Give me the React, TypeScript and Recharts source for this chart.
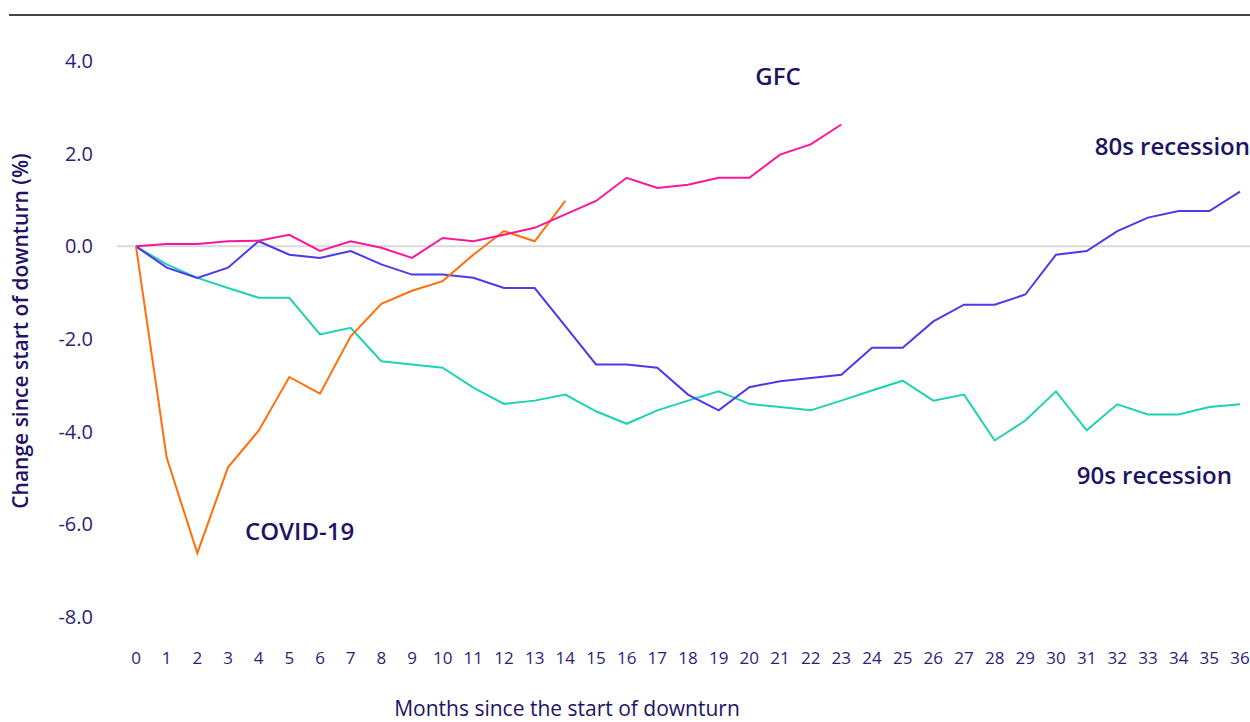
import React from "react";
import { LineChart, Line, XAxis, YAxis, ReferenceLine } from "recharts";

const months = [0, 1, 2, 3, 4, 5, 6, 7, 8, 9, 10, 11, 12, 13, 14, 15, 16, 17, 18, 19, 20, 21, 22, 23, 24, 25, 26, 27, 28, 29, 30, 31, 32, 33, 34, 35, 36];
const yTicks = [-8, -6, -4, -2, 0, 2, 4];

const gfc = [0, 0.05, 0.05, 0.11, 0.12, 0.25, -0.1, 0.11, -0.03, -0.25, 0.18, 0.11, 0.25, 0.4, 0.69, 0.98, 1.48, 1.26, 1.33, 1.48, 1.48, 1.98, 2.2, 2.63];
const covid = [0, -4.56, -6.62, -4.77, -3.98, -2.82, -3.18, -1.94, -1.24, -0.96, -0.75, -0.18, 0.33, 0.11, 0.98];
const eighties = [0, -0.46, -0.68, -0.46, 0.11, -0.18, -0.25, -0.1, -0.39, -0.61, -0.61, -0.68, -0.9, -0.9, -1.72, -2.55, -2.55, -2.62, -3.2, -3.54, -3.04, -2.91, -2.84, -2.77, -2.19, -2.19, -1.62, -1.26, -1.26, -1.04, -0.18, -0.1, 0.33, 0.62, 0.76, 0.76, 1.18];
const nineties = [0, -0.39, -0.68, -0.9, -1.11, -1.11, -1.9, -1.76, -2.48, -2.55, -2.62, -3.05, -3.4, -3.33, -3.2, -3.56, -3.83, -3.54, -3.33, -3.13, -3.4, -3.47, -3.54, -3.33, -3.11, -2.9, -3.33, -3.2, -4.19, -3.76, -3.13, -3.97, -3.41, -3.63, -3.63, -3.47, -3.41];

const data = months.map((m, i) => ({
  month: m,
  gfc: i < gfc.length ? gfc[i] : null,
  covid: i < covid.length ? covid[i] : null,
  eighties: i < eighties.length ? eighties[i] : null,
  nineties: i < nineties.length ? nineties[i] : null,
}));

const FONT = "'Open Sans', sans-serif";
const TICK_COLOR = "#2a1e78";
const TITLE_COLOR = "#1d1466";

export default function App() {
  return (
    <div style={{ position: "absolute", left: 0, top: 0, width: 1250, height: 722, background: "#fff", fontFamily: FONT, overflow: "hidden" }}>
      <div style={{ position: "absolute", left: 9, top: 14, width: 1241, height: 0, borderTop: "2px solid #444" }} />
      <LineChart width={1250} height={722} data={data} margin={{ top: 61, right: 0, left: 0, bottom: 65 }}>
        <XAxis
          dataKey="month"
          type="number"
          domain={[0, 36]}
          ticks={months}
          interval={0}
          padding={{ left: 19, right: 10 }}
          axisLine={false}
          tickLine={false}
          height={40}
          tickMargin={29}
          tick={{ fill: TICK_COLOR, fontSize: 17, fontFamily: FONT }}
        />
        <YAxis
          type="number"
          domain={[-8, 4]}
          ticks={yTicks}
          width={117}
          axisLine={false}
          tickLine={false}
          tickMargin={18}
          tickFormatter={(v: number) => v.toFixed(1)}
          tick={{ fill: TICK_COLOR, fontSize: 20, fontFamily: FONT }}
        />
        <ReferenceLine y={0} stroke="#d9d9d9" strokeWidth={2} />
        <Line type="linear" dataKey="nineties" stroke="#1ed2b2" strokeWidth={2} dot={false} isAnimationActive={false} />
        <Line type="linear" dataKey="eighties" stroke="#4b3aec" strokeWidth={2} dot={false} isAnimationActive={false} />
        <Line type="linear" dataKey="covid" stroke="#ff6f0a" strokeWidth={2} dot={false} isAnimationActive={false} />
        <Line type="linear" dataKey="gfc" stroke="#fb169c" strokeWidth={2} dot={false} isAnimationActive={false} />
      </LineChart>
      <svg width={1250} height={722} style={{ position: "absolute", left: 0, top: 0, pointerEvents: "none" }}>
        <text x={20} y={331} transform="rotate(-90 20 331)" textAnchor="middle" dominantBaseline="central" fill={TITLE_COLOR} fontSize={21} fontWeight={600} fontFamily={FONT}>
          Change since start of downturn (%)
        </text>
        <text x={567} y={716} textAnchor="middle" fill={TITLE_COLOR} fontSize={21} fontWeight={500} fontFamily={FONT}>
          Months since the start of downturn
        </text>
        <text x={778} y={75} textAnchor="middle" dominantBaseline="central" fill={TITLE_COLOR} fontSize={24} fontWeight={600} fontFamily={FONT}>GFC</text>
        <text x={1250} y={145} textAnchor="end" dominantBaseline="central" fill={TITLE_COLOR} fontSize={24} fontWeight={600} fontFamily={FONT}>80s recession</text>
        <text x={1232} y={474} textAnchor="end" dominantBaseline="central" fill={TITLE_COLOR} fontSize={24} fontWeight={600} fontFamily={FONT}>90s recession</text>
        <text x={245} y={530} textAnchor="start" dominantBaseline="central" fill={TITLE_COLOR} fontSize={24} fontWeight={600} fontFamily={FONT}>COVID-19</text>
      </svg>
    </div>
  );
}
